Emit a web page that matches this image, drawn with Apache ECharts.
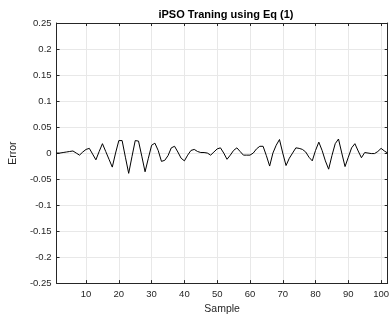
<!DOCTYPE html>
<html>
<head>
<meta charset="utf-8">
<script src="https://cdn.jsdelivr.net/npm/echarts@6/dist/echarts.min.js"></script>
<style>
  html, body { margin: 0; padding: 0; background: #fff; }
  #chart { width: 392px; height: 320px; }
</style>
</head>
<body>
<div id="chart"></div>
<script>
// Training error per sample
const samples = [];
for (let i = 1; i <= 102; i++) samples.push(i);

const errors = [
  0.000, 0.000, 0.001, 0.002, 0.003, 0.004, 0.000, -0.004, 0.002, 0.007,
  0.009, -0.002, -0.013, 0.003, 0.018, 0.003, -0.012, -0.027, 0.000, 0.024,
  0.024, -0.008, -0.039, -0.007, 0.024, 0.023, -0.006, -0.036, -0.010, 0.015,
  0.019, 0.005, -0.016, -0.014, -0.005, 0.010, 0.013, 0.002, -0.010, -0.015,
  -0.004, 0.005, 0.007, 0.003, 0.001, 0.001, 0.000, -0.004, 0.002, 0.008,
  0.010, 0.000, -0.012, -0.004, 0.005, 0.010, 0.003, -0.004, -0.004, -0.004,
  0.000, 0.008, 0.013, 0.013, -0.005, -0.025, 0.000, 0.015, 0.026, 0.000,
  -0.024, -0.010, 0.000, 0.010, 0.009, 0.007, 0.002, -0.008, -0.015, 0.005,
  0.021, 0.005, -0.015, -0.031, -0.005, 0.018, 0.027, 0.000, -0.026, -0.008,
  0.010, 0.018, 0.004, -0.009, 0.001, 0.000, -0.001, -0.001, 0.003, 0.009,
  0.004, 0.000
];

const titleText = 'iPSO Traning using Eq (1)';
const xName = 'Sample';
const yName = 'Error';

const font = 'Liberation Sans, Arial, Helvetica, sans-serif';
const axisColor = '#262626';
const gridColor = '#e8e8e8';

const chart = echarts.init(document.getElementById('chart'), null, { renderer: 'canvas' });

// top and right edges of the box, ticks only
const boxAxis = {
  axisLine: { show: true, onZero: false, lineStyle: { color: axisColor, width: 1 } },
  axisTick: { show: true, inside: true, length: 3, lineStyle: { color: axisColor } },
  axisLabel: { show: false },
  splitLine: { show: false }
};

chart.setOption({
  animation: false,
  backgroundColor: '#fff',
  title: {
    text: titleText,
    left: 221, top: 4, textAlign: 'center',
    textStyle: { fontFamily: font, fontSize: 11, fontWeight: 'bold', color: '#000' }
  },
  grid: { left: 55, right: 4, top: 23, bottom: 34, containLabel: false },
  xAxis: [
    {
      type: 'value', min: 1, max: 102, splitNumber: 10,
      name: xName, nameLocation: 'middle', nameGap: 19,
      nameTextStyle: { fontFamily: font, fontSize: 10.5, color: axisColor },
      axisLine: { show: true, onZero: false, lineStyle: { color: axisColor, width: 1 } },
      axisTick: { show: true, inside: true, length: 3, lineStyle: { color: axisColor } },
      axisLabel: { fontFamily: font, fontSize: 9.5, color: axisColor, margin: 6,
                   showMinLabel: false, showMaxLabel: false },
      splitLine: { show: true, lineStyle: { color: gridColor, width: 1 } }
    },
    Object.assign({ type: 'value', min: 1, max: 102, splitNumber: 10, position: 'top' }, boxAxis)
  ],
  yAxis: [
    {
      type: 'value', min: -0.25, max: 0.25, interval: 0.05,
      name: yName, nameLocation: 'middle', nameGap: 33, nameRotate: 90,
      nameTextStyle: { fontFamily: font, fontSize: 10.5, color: axisColor },
      axisLine: { show: true, onZero: false, lineStyle: { color: axisColor, width: 1 } },
      axisTick: { show: true, inside: true, length: 3, lineStyle: { color: axisColor } },
      axisLabel: {
        fontFamily: font, fontSize: 9.5, color: axisColor, margin: 5,
        formatter: v => String(Math.round(v * 100) / 100)
      },
      splitLine: { show: true, lineStyle: { color: gridColor, width: 1 } }
    },
    Object.assign({ type: 'value', min: -0.25, max: 0.25, interval: 0.05, position: 'right' }, boxAxis)
  ],
  series: [{
    type: 'line',
    data: samples.map((s, i) => [s, errors[i]]),
    showSymbol: false,
    lineStyle: { color: '#000', width: 1 },
    xAxisIndex: 0, yAxisIndex: 0
  }]
});
</script>
</body>
</html>
